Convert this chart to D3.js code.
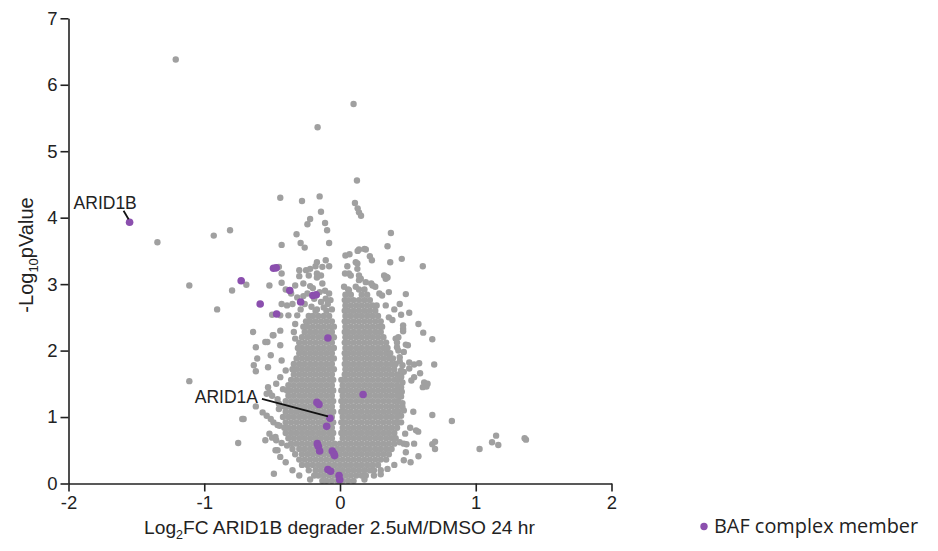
<!DOCTYPE html>
<html>
<head>
<meta charset="utf-8">
<script src="https://cdn.jsdelivr.net/npm/d3@7"></script>
<style>
  html, body { margin: 0; padding: 0; background: #fff; }
  svg { display: block; }
</style>
</head>
<body>
<svg id="chart" width="938" height="551"></svg>
<script>
// ---- Data: log2 fold change vs -log10 p-value ----
const xTicks = [-2, -1, 0, 1, 2];
const yTicks = [0, 1, 2, 3, 4, 5, 6, 7];

// Bulk of quantified proteins, one list of log2FC values per -log10p level
const cloudLevels = [0.04, 0.12, 0.20, 0.28, 0.36, 0.44, 0.52, 0.60, 0.68, 0.76,
  0.84, 0.92, 1.00, 1.08, 1.16, 1.24, 1.32, 1.40, 1.48, 1.56,
  1.64, 1.72, 1.80, 1.88, 1.96, 2.04, 2.12, 2.20, 2.28, 2.36,
  2.44, 2.52, 2.60, 2.68, 2.76, 2.84, 2.92];
const cloudFC = [
  [-0.13,-0.10,-0.06,-0.02,0.02,0.06,0.10],
  [-0.19,-0.16,-0.12,-0.08,-0.04,0.00,0.04,0.08,0.12,0.16,0.19],
  [-0.23,-0.18,-0.14,-0.10,-0.06,-0.02,0.02,0.06,0.10,0.14,0.18,0.22,0.25],
  [-0.28,-0.24,-0.20,-0.16,-0.12,-0.08,-0.04,0.00,0.04,0.08,0.12,0.16,0.20,0.24,0.28],
  [-0.30,-0.26,-0.22,-0.18,-0.14,-0.10,-0.06,-0.02,0.02,0.06,0.10,0.14,0.18,0.22,0.26,0.30,0.34],
  [-0.33,-0.28,-0.24,-0.20,-0.16,-0.12,-0.08,-0.04,0.00,0.04,0.08,0.12,0.16,0.20,0.24,0.28,0.32,0.36],
  [-0.35,-0.30,-0.26,-0.22,-0.18,-0.14,-0.10,-0.06,-0.02,0.02,0.06,0.10,0.14,0.18,0.22,0.26,0.30,0.34,0.38],
  [-0.36,-0.32,-0.28,-0.24,-0.20,-0.16,-0.12,-0.08,-0.04,0.00,0.04,0.08,0.12,0.16,0.20,0.24,0.28,0.32,0.36,0.40],
  [-0.38,-0.34,-0.30,-0.26,-0.22,-0.18,-0.14,-0.10,-0.06,0.02,0.06,0.10,0.14,0.18,0.22,0.26,0.30,0.34,0.38,0.41],
  [-0.40,-0.36,-0.32,-0.28,-0.24,-0.20,-0.16,-0.12,-0.08,-0.05,0.01,0.04,0.08,0.12,0.16,0.20,0.24,0.28,0.32,0.36,0.40],
  [-0.41,-0.38,-0.34,-0.30,-0.26,-0.22,-0.18,-0.14,-0.10,-0.06,0.02,0.06,0.10,0.14,0.18,0.22,0.26,0.30,0.34,0.38,0.42],
  [-0.40,-0.36,-0.32,-0.28,-0.24,-0.20,-0.16,-0.12,-0.08,-0.05,0.01,0.04,0.08,0.12,0.16,0.20,0.24,0.28,0.32,0.36,0.40,0.43],
  [-0.42,-0.38,-0.34,-0.30,-0.26,-0.22,-0.18,-0.14,-0.10,-0.06,0.02,0.06,0.10,0.14,0.18,0.22,0.26,0.30,0.34,0.38,0.42],
  [-0.40,-0.36,-0.32,-0.28,-0.24,-0.20,-0.16,-0.12,-0.08,-0.05,0.01,0.04,0.08,0.12,0.16,0.20,0.24,0.28,0.32,0.36,0.40,0.43],
  [-0.41,-0.38,-0.34,-0.30,-0.26,-0.22,-0.18,-0.14,-0.10,-0.06,0.02,0.06,0.10,0.14,0.18,0.22,0.26,0.30,0.34,0.38,0.42],
  [-0.40,-0.36,-0.32,-0.28,-0.24,-0.20,-0.16,-0.12,-0.08,-0.05,0.01,0.04,0.08,0.12,0.16,0.20,0.24,0.28,0.32,0.36,0.40,0.43],
  [-0.38,-0.34,-0.30,-0.26,-0.22,-0.18,-0.14,-0.10,-0.06,0.02,0.06,0.10,0.14,0.18,0.22,0.26,0.30,0.34,0.38,0.42],
  [-0.39,-0.36,-0.32,-0.28,-0.24,-0.20,-0.16,-0.12,-0.08,-0.05,0.01,0.04,0.08,0.12,0.16,0.20,0.24,0.28,0.32,0.36,0.40,0.43],
  [-0.38,-0.34,-0.30,-0.26,-0.22,-0.18,-0.14,-0.10,-0.06,0.02,0.06,0.10,0.14,0.18,0.22,0.26,0.30,0.34,0.38,0.42],
  [-0.36,-0.32,-0.28,-0.24,-0.20,-0.16,-0.12,-0.08,-0.05,0.01,0.04,0.08,0.12,0.16,0.20,0.24,0.28,0.32,0.36,0.40,0.43],
  [-0.34,-0.30,-0.26,-0.22,-0.18,-0.14,-0.10,-0.06,0.035,0.06,0.10,0.14,0.18,0.22,0.26,0.30,0.34,0.38,0.42],
  [-0.35,-0.32,-0.28,-0.24,-0.20,-0.16,-0.12,-0.08,-0.045,0.04,0.08,0.12,0.16,0.20,0.24,0.28,0.32,0.36,0.40],
  [-0.34,-0.30,-0.26,-0.22,-0.18,-0.14,-0.10,-0.06,0.035,0.06,0.10,0.14,0.18,0.22,0.26,0.30,0.34,0.38,0.41],
  [-0.32,-0.28,-0.24,-0.20,-0.16,-0.12,-0.08,-0.045,0.04,0.08,0.12,0.16,0.20,0.24,0.28,0.32,0.36,0.39],
  [-0.30,-0.26,-0.22,-0.18,-0.14,-0.10,-0.06,0.035,0.06,0.10,0.14,0.18,0.22,0.26,0.30,0.34,0.37],
  [-0.31,-0.28,-0.24,-0.20,-0.16,-0.12,-0.08,-0.045,0.04,0.08,0.12,0.16,0.20,0.24,0.28,0.32,0.35],
  [-0.30,-0.26,-0.22,-0.18,-0.14,-0.10,-0.06,0.035,0.06,0.10,0.14,0.18,0.22,0.26,0.30,0.34],
  [-0.28,-0.24,-0.20,-0.16,-0.12,-0.08,-0.045,0.04,0.08,0.12,0.16,0.20,0.24,0.28,0.32],
  [-0.26,-0.22,-0.18,-0.14,-0.10,-0.06,0.035,0.06,0.10,0.14,0.18,0.22,0.26,0.30],
  [-0.27,-0.24,-0.20,-0.16,-0.12,-0.08,-0.045,0.04,0.08,0.12,0.16,0.20,0.24,0.28,0.31],
  [-0.25,-0.22,-0.18,-0.14,-0.10,-0.06,0.035,0.06,0.10,0.14,0.18,0.22,0.26,0.30],
  [-0.23,-0.20,-0.16,-0.12,-0.08,0.04,0.08,0.12,0.16,0.20,0.24,0.28],
  [-0.18,-0.10,0.035,0.06,0.10,0.14,0.18,0.22,0.26],
  [0.04,0.08,0.12,0.16,0.20,0.24,0.27],
  [0.035,0.06,0.10,0.14,0.18,0.22],
  [0.04,0.08,0.16,0.20],
  [0.06,0.14,0.18]
];

// Individually resolved proteins outside the bulk: [log2FC, -log10p]
const scatterPoints = [
  [-1.21,6.38],[0.10,5.71],[-0.165,5.36],[0.125,4.56],[-0.44,4.30],[-0.28,4.25],[-0.15,4.32],
  [0.11,4.22],[0.13,4.14],[0.14,4.08],[0.155,4.03],[-0.14,4.09],[-0.22,3.98],[-0.24,3.90],
  [-0.11,3.92],[-0.095,3.81],[-0.32,3.75],[0.375,3.77],[-0.81,3.81],[-0.93,3.73],[-1.345,3.63],
  [-0.43,3.59],[-0.29,3.62],[-0.26,3.55],[-0.08,3.62],[0.35,3.57],[0.14,3.52],[0.18,3.53],
  [-1.11,2.98],[-0.905,2.62],[-0.795,2.905],[-0.69,2.99],[-0.52,2.98],[-0.43,3.16],[-0.43,3.02],
  [-0.64,2.28],[-0.62,2.05],[-0.61,1.88],[-0.635,1.78],[-0.62,1.69],[-0.535,2.13],[-0.53,1.75],
  [-0.495,2.23],[-1.11,1.54],[-0.71,0.97],[-0.75,0.61],[-0.487,0.146],[-0.62,1.16],[-0.53,1.45],
  [-0.52,1.37],[-0.52,0.75],[-0.50,0.69],[-0.47,0.65],[-0.445,0.87],[-0.475,0.50],[-0.43,0.61],
  [-0.30,3.12],[-0.23,3.13],[-0.17,3.10],[-0.33,2.98],[-0.27,3.01],[-0.22,2.97],[-0.13,3.01],
  [-0.43,2.70],[-0.39,2.68],[-0.35,2.70],[-0.315,2.80],[-0.24,2.86],[-0.19,2.78],[-0.14,2.73],
  [-0.105,2.78],[-0.08,2.86],[-0.44,2.53],[-0.38,2.53],[-0.315,2.53],[-0.50,2.54],[-0.33,2.40],
  [-0.34,2.28],[-0.33,2.18],[-0.44,2.30],[-0.49,2.23],[-0.44,2.08],[-0.55,2.13],[-0.51,1.93],
  [-0.43,1.85],[-0.40,1.70],[-0.30,3.21],[-0.25,3.21],[-0.22,3.23],[-0.18,3.27],[-0.17,3.33],
  [-0.13,3.26],[-0.105,3.36],[-0.08,3.27],[-0.17,3.16],[-0.14,3.13],[-0.45,3.26],
  [-0.21,2.66],[-0.17,2.62],[-0.12,2.65],[-0.09,2.70],[-0.06,2.62],[-0.07,2.76],[-0.11,2.90],
  [-0.26,2.70],[-0.29,2.62],[-0.15,2.88],[-0.20,2.94],[-0.36,2.86],[-0.40,2.92],[-0.27,2.82],
  [-0.54,1.35],[-0.50,1.32],[-0.46,1.27],[-0.72,0.97],[-0.57,1.07],[-0.54,1.02],[-0.51,0.97],
  [-0.49,0.92],[-0.46,0.88],[-0.55,0.65],[-0.475,0.70],[-0.46,0.50],[-0.44,0.40],[-0.40,0.32],
  [-0.39,0.57],[-0.45,1.12],[-0.47,1.50],[-0.44,1.60],[-0.42,1.42],[-0.45,1.20],
  [-0.35,0.20],[-0.30,0.12],[-0.22,0.06],[0.18,0.06],[0.25,0.12],[0.30,0.20],
  [0.455,3.38],[0.61,3.27],[0.485,2.85],[0.51,2.57],[0.45,2.54],[0.465,2.38],[0.465,2.33],
  [0.465,2.29],[0.578,2.40],[0.613,2.27],[0.68,2.17],[0.50,2.08],[0.47,1.98],[0.51,1.82],
  [0.546,1.79],[0.583,1.81],[0.694,1.79],[0.59,1.66],[0.47,1.68],[0.45,1.62],[0.526,1.55],
  [0.62,1.52],[0.637,1.46],[0.45,1.45],[0.45,1.31],[0.46,1.21],[0.46,1.15],[0.47,1.10],
  [0.54,1.08],[0.68,1.03],[0.824,0.94],[0.45,0.92],[0.517,0.84],[0.576,0.78],[0.48,0.75],
  [0.49,0.59],[0.68,0.59],[0.70,0.63],[0.70,0.52],[0.485,0.47],[0.47,0.35],[0.578,0.41],
  [1.028,0.52],[1.12,0.62],[1.15,0.72],[1.166,0.58],[1.36,0.68],[1.37,0.66],
  [0.04,3.43],[0.07,3.45],[0.13,3.50],[0.19,3.52],[0.22,3.42],[0.235,3.36],[0.128,3.31],
  [0.37,3.33],[0.34,3.11],[0.054,3.27],[0.066,3.16],[0.116,3.33],[0.128,3.23],[0.14,3.13],
  [0.325,3.13],[0.35,3.10],[0.037,3.16],[0.24,2.98],[0.26,2.96],[0.14,3.06],[0.19,3.03],
  [0.23,3.01],[0.337,3.08],[0.079,3.13],[0.153,3.08],[0.03,2.96],[0.066,2.91],[0.116,2.96],
  [0.29,2.86],[0.31,2.83],[0.36,2.88],[0.337,2.68],[0.36,2.50],[0.386,2.46],[0.41,2.18],
  [0.485,2.09],[0.42,2.05],[0.51,1.73],[0.45,1.60],[0.546,1.60],[0.61,1.45],[0.645,1.50],
  [0.56,0.80],[0.47,0.60],[0.546,0.60],[0.52,0.32],[0.44,2.70],[0.40,2.62],[0.43,2.20],
  [0.44,1.90],[0.46,1.78],[0.45,1.02],[0.44,0.62],[0.40,0.28],[0.35,0.22],[0.30,0.14],
  [0.455,1.38],[0.46,1.52],[0.45,1.70],[0.44,1.84],[0.43,2.00],[0.42,2.12]
];

// BAF complex members
const bafFC = [-1.55, -0.728, -0.588, -0.49, -0.47, -0.467, -0.37, -0.29, -0.20, -0.175,
  -0.089, -0.17, -0.155, -0.074, -0.098, 0.17, -0.167, -0.16, -0.15, -0.057, -0.045, -0.04,
  -0.089, -0.069, -0.007, -0.002];
const bafP = [3.93, 3.05, 2.70, 3.24, 3.245, 2.55, 2.905, 2.73, 2.83, 2.84,
  2.19, 1.22, 1.19, 0.98, 0.86, 1.34, 0.60, 0.56, 0.49, 0.49, 0.45, 0.42,
  0.21, 0.185, 0.12, 0.056];

// Named proteins
const labelGenes = ["ARID1B", "ARID1A"];
const labelFC = [-1.55, -0.074];
const labelP = [3.93, 0.98];

const legendLabel = "BAF complex member";

// ---- Layout ----
const svg = d3.select("#chart");
const axisFont = "'Liberation Sans', Arial, Helvetica, sans-serif";
const ink = "#222";
const grayFill = "#a0a0a0";
const bafFill = "#8b4fae";

const x = d3.scaleLinear().domain([-2, 2]).range([68.5, 611.5]);
const y = d3.scaleLinear().domain([0, 7]).range([483.5, 18.3]);

// Gray proteins
const grayData = cloudLevels.flatMap((p, i) => cloudFC[i].map(fc => [fc, p])).concat(scatterPoints);
svg.append("g")
  .selectAll("circle")
  .data(grayData)
  .join("circle")
  .attr("cx", d => x(d[0]))
  .attr("cy", d => y(d[1]))
  .attr("r", 3.2)
  .attr("fill", grayFill);

// BAF complex members
svg.append("g")
  .selectAll("circle")
  .data(d3.range(bafFC.length))
  .join("circle")
  .attr("cx", i => x(bafFC[i]))
  .attr("cy", i => y(bafP[i]))
  .attr("r", 3.8)
  .attr("fill", bafFill);

// Axes
function styleAxis(g) {
  g.select(".domain").attr("stroke", ink).attr("stroke-width", 1.6);
  g.selectAll(".tick line").attr("stroke", ink).attr("stroke-width", 1.6);
  g.selectAll(".tick text")
    .attr("fill", ink)
    .style("font-family", axisFont)
    .style("font-size", "18.5px");
}

svg.append("g")
  .attr("transform", `translate(0,${y(0)})`)
  .call(d3.axisBottom(x).tickValues(xTicks).tickSize(8).tickSizeOuter(0).tickPadding(4)
    .tickFormat(d => String(d)))
  .call(styleAxis);

svg.append("g")
  .attr("transform", `translate(${x(-2)},0)`)
  .call(d3.axisLeft(y).tickValues(yTicks).tickSize(8).tickSizeOuter(0).tickPadding(3)
    .tickFormat(d => String(d)))
  .call(styleAxis);

// Axis titles
const xTitle = svg.append("text")
  .attr("x", 339.5).attr("y", 534)
  .attr("text-anchor", "middle")
  .attr("fill", ink)
  .style("font-family", axisFont)
  .style("font-size", "19.2px");
xTitle.append("tspan").text("Log");
xTitle.append("tspan").attr("dy", 5).style("font-size", "12.5px").text("2");
xTitle.append("tspan").attr("dy", -5).text("FC ARID1B degrader 2.5uM/DMSO 24 hr");

const yTitle = svg.append("text")
  .attr("transform", "translate(33,255) rotate(-90)")
  .attr("text-anchor", "middle")
  .attr("fill", ink)
  .style("font-family", axisFont)
  .style("font-size", "20px");
yTitle.append("tspan").text("-Log");
yTitle.append("tspan").attr("dy", 5).style("font-size", "13px").text("10");
yTitle.append("tspan").attr("dy", -5).text("pValue");

// Gene callouts: label offset and leader line, relative to the marker
const callouts = [
  { tx: -56, ty: -13, anchor: "start", x1: -6, y1: -11.5, x2: -1, y2: -3 },
  { tx: -72, ty: -15, anchor: "end",   x1: -68, y1: -19.5, x2: -2, y2: -2 }
];
labelGenes.forEach((gene, i) => {
  const px = x(labelFC[i]), py = y(labelP[i]);
  const c = callouts[i];
  svg.append("line")
    .attr("x1", px + c.x1).attr("y1", py + c.y1)
    .attr("x2", px + c.x2).attr("y2", py + c.y2)
    .attr("stroke", "#111").attr("stroke-width", 1.8);
  svg.append("text")
    .attr("x", px + c.tx).attr("y", py + c.ty)
    .attr("text-anchor", c.anchor)
    .attr("fill", ink)
    .style("font-family", axisFont)
    .style("font-size", "17.5px")
    .text(gene);
});

// Legend
const legend = svg.append("g").attr("transform", "translate(704,526.5)");
legend.append("circle").attr("r", 3.7).attr("fill", bafFill);
legend.append("text")
  .attr("x", 10).attr("y", 6.8)
  .attr("fill", ink)
  .style("font-family", "'Open Sans', 'Noto Sans', sans-serif")
  .style("font-size", "19.9px")
  .text(legendLabel);
</script>
</body>
</html>
